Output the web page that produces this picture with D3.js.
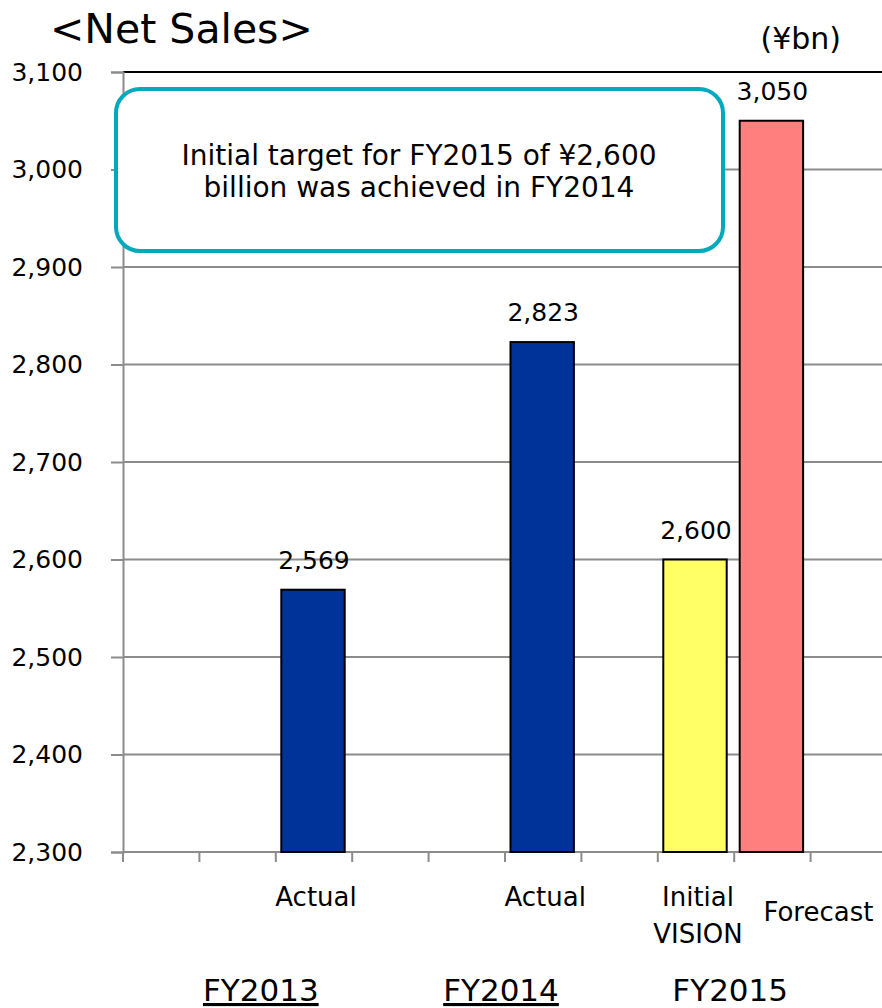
<!DOCTYPE html>
<html>
<head>
<meta charset="utf-8">
<script src="https://cdn.jsdelivr.net/npm/d3@7"></script>
<style>
  body { margin: 0; background: #fff; }
  text { font-family: "DejaVu Sans", Verdana, sans-serif; fill: #000; }
</style>
</head>
<body>
<div id="chart"></div>
<script>
// data
const slots = ["s0", "s1", "s2", "s3", "s4", "s5", "s6", "s7", "s8", "s9"]
const barSlots  = ["s2", "s5", "s7", "s8"]
const barValues = [2569, 2823, 2600, 3050]
const barLabels = [["Actual"], ["Actual"], ["Initial", "VISION"], ["Forecast"]]
const barColors = ["#003399", "#003399", "#ffff66", "#ff7f7f"]
const groupNames   = ["FY2013", "FY2014", "FY2015"]
const groupAnchors = ["s2", "s5", "s8"]
const groupUnderline = [true, true, false]
const yTicks = [2300, 2400, 2500, 2600, 2700, 2800, 2900, 3000, 3100]

const width = 882
const height = 1008
const margin = { top: 72, bottom: 156, left: 123, right: -5 }

const svg = d3.select("#chart")
  .append("svg")
    .attr("width", width)
    .attr("height", height)

const x = d3.scaleBand()
  .domain(slots)
  .range([margin.left, width - margin.right])
  .padding(0)
const y = d3.scaleLinear()
  .domain([2300, 3100])
  .range([height - margin.bottom, margin.top])

// grid
svg.append("g")
  .selectAll("line")
  .data(yTicks.slice(1, -1))
  .join("line")
    .attr("x1", margin.left).attr("x2", width)
    .attr("y1", d => y(d)).attr("y2", d => y(d))
    .attr("stroke", "#8c8c8c").attr("stroke-width", 2)

// top border line
svg.append("line")
  .attr("x1", margin.left).attr("x2", width)
  .attr("y1", y(3100)).attr("y2", y(3100))
  .attr("stroke", "#000").attr("stroke-width", 2)

// y axis
const yAxisGroup = svg.append("g")
  .attr("transform", `translate(${margin.left},0)`)
  .call(d3.axisLeft(y).tickValues(yTicks).tickSize(12).tickPadding(28).tickFormat(d3.format(",")))
yAxisGroup.selectAll("path, line").attr("stroke", "#8c8c8c").attr("stroke-width", 2)
yAxisGroup.selectAll("text")
  .attr("font-size", 25).attr("font-family", "DejaVu Sans").attr("fill", "#000")

// x axis (tick marks at slot boundaries)
const xAxisGroup = svg.append("g")
xAxisGroup.append("line")
  .attr("x1", margin.left).attr("x2", width)
  .attr("y1", y(2300)).attr("y2", y(2300))
  .attr("stroke", "#8c8c8c").attr("stroke-width", 2)
xAxisGroup.selectAll("line.tick")
  .data(slots)
  .join("line")
    .attr("class", "tick")
    .attr("x1", d => x(d)).attr("x2", d => x(d))
    .attr("y1", y(2300)).attr("y2", y(2300) + 10)
    .attr("stroke", "#8c8c8c").attr("stroke-width", 2)

// bars
const bw = x.bandwidth() * 0.83
const bars = barSlots.map((s, i) => ({ slot: s, value: barValues[i], color: barColors[i], label: barLabels[i] }))

svg.append("g")
  .selectAll("rect")
  .data(bars)
  .join("rect")
    .attr("x", d => x(d.slot) + (x.bandwidth() - bw) / 2 - 1)
    .attr("y", d => y(d.value))
    .attr("width", bw)
    .attr("height", d => y(2300) - y(d.value))
    .attr("fill", d => d.color)
    .attr("stroke", "#000")
    .attr("stroke-width", 2)

// value labels
svg.append("g")
  .selectAll("text")
  .data(bars)
  .join("text")
    .attr("x", d => x(d.slot) + x.bandwidth() / 2)
    .attr("y", d => y(d.value) - 21)
    .attr("text-anchor", "middle")
    .attr("font-size", 25)
    .text(d => d3.format(",")(d.value))

// category labels
const catLabels = svg.append("g")
bars.forEach(d => {
  const isForecast = d.label[0] === "Forecast"
  const cx = x(d.slot) + x.bandwidth() / 2 + (isForecast ? 46 : 2)
  const t = catLabels.append("text")
    .attr("text-anchor", "middle")
    .attr("font-size", 26)
  d.label.forEach((line, j) => {
    t.append("tspan")
      .attr("x", cx)
      .attr("y", (isForecast ? 921 : 906) + j * 37)
      .text(line)
  })
})

// group labels
svg.append("g")
  .selectAll("text")
  .data(groupNames)
  .join("text")
    .attr("x", (d, i) => x(groupAnchors[i]) - (i === 0 ? 15 : 4))
    .attr("y", 1001)
    .attr("text-anchor", "middle")
    .attr("font-size", 31)
    .attr("text-decoration", (d, i) => groupUnderline[i] ? "underline" : "none")
    .text(d => d)

// title and unit
svg.append("text")
  .attr("x", 50).attr("y", 43)
  .attr("font-size", 41)
  .text("<Net Sales>")
svg.append("text")
  .attr("x", 841).attr("y", 49)
  .attr("text-anchor", "end")
  .attr("font-size", 30)
  .text("(¥bn)")

// callout box
const box = svg.append("g")
box.append("rect")
  .attr("x", 116).attr("y", 89)
  .attr("width", 607).attr("height", 162)
  .attr("rx", 24).attr("ry", 24)
  .attr("fill", "#fff")
  .attr("stroke", "#00a9bb")
  .attr("stroke-width", 4)
const boxText = box.append("text")
  .attr("text-anchor", "middle")
  .attr("font-size", 28)
boxText.append("tspan").attr("x", 419).attr("y", 165).text("Initial target for FY2015 of ¥2,600")
boxText.append("tspan").attr("x", 419).attr("y", 197).text("billion was achieved in FY2014")
</script>
</body>
</html>
